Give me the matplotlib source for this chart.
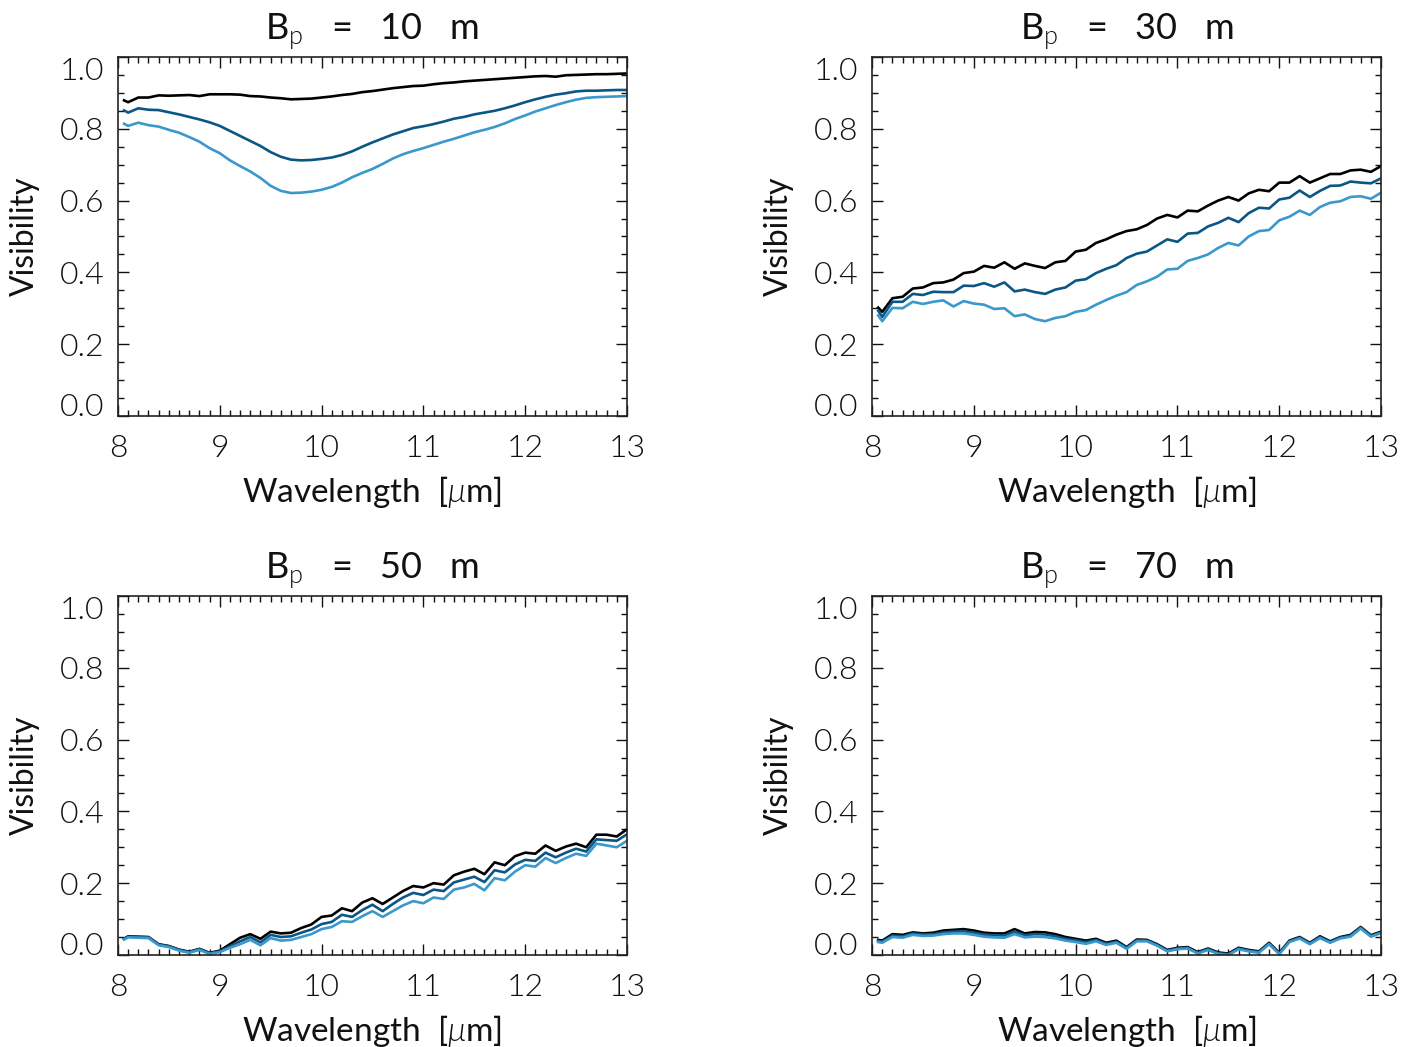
import numpy as np
import matplotlib
matplotlib.use('Agg')
import matplotlib.pyplot as plt
from matplotlib.ticker import MultipleLocator

plt.rcParams['font.family'] = ['Lato', 'DejaVu Sans']
plt.rcParams['font.weight'] = 300
plt.rcParams['mathtext.fontset'] = 'custom'
plt.rcParams['mathtext.rm'] = 'Lato:weight=300'
plt.rcParams['mathtext.it'] = 'Lato:italic:weight=300'

# wavelength grid [micron]
wl = np.concatenate([[8.06], np.round(np.arange(8.1, 13.05, 0.1), 2)])

baselines = [10, 30, 50, 70]

# B_p = 10 m
v10_black = [0.879, 0.874, 0.887, 0.887, 0.893, 0.892, 0.893, 0.894, 0.891, 0.896,
             0.896, 0.896, 0.895, 0.891, 0.890, 0.887, 0.885, 0.882, 0.883, 0.884,
             0.887, 0.890, 0.894, 0.897, 0.902, 0.905, 0.909, 0.913, 0.916, 0.919,
             0.920, 0.924, 0.927, 0.929, 0.932, 0.934, 0.936, 0.938, 0.940, 0.942,
             0.944, 0.946, 0.947, 0.945, 0.949, 0.950, 0.951, 0.952, 0.952, 0.953,
             0.954]
v10_dark = [0.851, 0.845, 0.857, 0.853, 0.852, 0.846, 0.840, 0.833, 0.826, 0.818,
            0.808, 0.794, 0.780, 0.766, 0.752, 0.735, 0.722, 0.714, 0.712, 0.713,
            0.716, 0.720, 0.727, 0.737, 0.750, 0.762, 0.773, 0.784, 0.793, 0.802,
            0.807, 0.813, 0.820, 0.828, 0.833, 0.840, 0.845, 0.850, 0.857, 0.865,
            0.874, 0.882, 0.889, 0.895, 0.899, 0.904, 0.906, 0.906, 0.907, 0.908,
            0.908]
v10_light = [0.814, 0.808, 0.817, 0.810, 0.806, 0.797, 0.789, 0.777, 0.764, 0.746,
             0.732, 0.712, 0.696, 0.681, 0.663, 0.641, 0.627, 0.621, 0.622, 0.625,
             0.630, 0.638, 0.650, 0.665, 0.677, 0.688, 0.702, 0.717, 0.729, 0.738,
             0.746, 0.755, 0.764, 0.772, 0.781, 0.790, 0.797, 0.805, 0.815, 0.827,
             0.837, 0.848, 0.857, 0.866, 0.874, 0.881, 0.886, 0.888, 0.889, 0.890,
             0.891]

# B_p = 30 m
v30_black = [0.302, 0.290, 0.328, 0.332, 0.355, 0.358, 0.370, 0.372, 0.380, 0.398,
             0.402, 0.418, 0.413, 0.428, 0.410, 0.425, 0.418, 0.412, 0.428, 0.432,
             0.458, 0.463, 0.482, 0.492, 0.505, 0.515, 0.520, 0.532, 0.550, 0.560,
             0.553, 0.572, 0.570, 0.586, 0.600, 0.610, 0.600, 0.620, 0.630, 0.626,
             0.650, 0.650, 0.668, 0.650, 0.662, 0.674, 0.674, 0.684, 0.686, 0.680,
             0.696]
v30_dark = [0.293, 0.276, 0.318, 0.318, 0.340, 0.337, 0.346, 0.345, 0.345, 0.363,
            0.362, 0.370, 0.360, 0.372, 0.347, 0.352, 0.345, 0.340, 0.352, 0.358,
            0.377, 0.381, 0.398, 0.410, 0.420, 0.440, 0.452, 0.458, 0.475, 0.492,
            0.485, 0.508, 0.510, 0.528, 0.538, 0.552, 0.540, 0.565, 0.580, 0.578,
            0.603, 0.608, 0.628, 0.610, 0.627, 0.641, 0.642, 0.653, 0.650, 0.648,
            0.662]
v30_light = [0.280, 0.264, 0.301, 0.300, 0.318, 0.312, 0.318, 0.322, 0.305, 0.320,
             0.313, 0.310, 0.298, 0.300, 0.278, 0.283, 0.270, 0.264, 0.273, 0.278,
             0.290, 0.295, 0.310, 0.323, 0.335, 0.345, 0.365, 0.375, 0.388, 0.408,
             0.410, 0.432, 0.440, 0.450, 0.468, 0.482, 0.475, 0.500, 0.515, 0.518,
             0.545, 0.555, 0.572, 0.560, 0.582, 0.594, 0.598, 0.610, 0.612, 0.605,
             0.622]

# B_p = 50 m
v50_black = [0.045, 0.052, 0.051, 0.050, 0.030, 0.025, 0.015, 0.009, 0.017, 0.006,
             0.012, 0.030, 0.048, 0.058, 0.045, 0.065, 0.060, 0.062, 0.075, 0.085,
             0.106, 0.110, 0.130, 0.122, 0.146, 0.158, 0.142, 0.160, 0.178, 0.192,
             0.188, 0.200, 0.196, 0.222, 0.232, 0.240, 0.225, 0.258, 0.250, 0.275,
             0.285, 0.282, 0.305, 0.290, 0.302, 0.310, 0.300, 0.335, 0.335, 0.330,
             0.350]
v50_dark = [0.045, 0.051, 0.050, 0.049, 0.029, 0.024, 0.014, 0.008, 0.016, 0.005,
            0.010, 0.024, 0.038, 0.050, 0.035, 0.056, 0.050, 0.052, 0.062, 0.071,
            0.086, 0.092, 0.112, 0.106, 0.125, 0.140, 0.122, 0.142, 0.160, 0.173,
            0.167, 0.182, 0.178, 0.202, 0.210, 0.218, 0.203, 0.236, 0.230, 0.252,
            0.265, 0.262, 0.285, 0.272, 0.285, 0.296, 0.288, 0.322, 0.320, 0.318,
            0.336]
v50_light = [0.043, 0.049, 0.048, 0.047, 0.027, 0.022, 0.012, 0.006, 0.014, 0.003,
             0.008, 0.020, 0.030, 0.042, 0.027, 0.047, 0.040, 0.042, 0.050, 0.058,
             0.072, 0.078, 0.094, 0.092, 0.108, 0.122, 0.106, 0.122, 0.138, 0.150,
             0.144, 0.160, 0.156, 0.182, 0.188, 0.198, 0.180, 0.214, 0.208, 0.232,
             0.250, 0.246, 0.270, 0.256, 0.270, 0.282, 0.276, 0.310, 0.305, 0.300,
             0.318]

# B_p = 70 m
v70_black = [0.042, 0.040, 0.058, 0.056, 0.063, 0.060, 0.062, 0.068, 0.070, 0.072,
             0.068, 0.062, 0.060, 0.060, 0.072, 0.060, 0.064, 0.063, 0.058, 0.050,
             0.045, 0.040, 0.045, 0.034, 0.040, 0.022, 0.043, 0.042, 0.030, 0.014,
             0.020, 0.022, 0.008, 0.018, 0.007, 0.004, 0.020, 0.014, 0.010, 0.034,
             0.006, 0.040, 0.050, 0.034, 0.052, 0.038, 0.050, 0.056, 0.078, 0.055,
             0.065]
v70_dark = [0.039, 0.037, 0.054, 0.052, 0.060, 0.057, 0.058, 0.063, 0.065, 0.066,
            0.062, 0.057, 0.055, 0.054, 0.065, 0.055, 0.058, 0.057, 0.052, 0.045,
            0.041, 0.036, 0.042, 0.031, 0.037, 0.020, 0.041, 0.040, 0.028, 0.012,
            0.018, 0.020, 0.006, 0.016, 0.005, 0.002, 0.018, 0.012, 0.008, 0.032,
            0.004, 0.038, 0.048, 0.032, 0.050, 0.036, 0.048, 0.054, 0.076, 0.053,
            0.063]
v70_light = [0.036, 0.034, 0.050, 0.048, 0.056, 0.053, 0.054, 0.058, 0.060, 0.060,
             0.056, 0.051, 0.049, 0.048, 0.058, 0.049, 0.051, 0.050, 0.046, 0.040,
             0.036, 0.031, 0.038, 0.028, 0.034, 0.017, 0.038, 0.038, 0.026, 0.010,
             0.016, 0.018, 0.004, 0.014, 0.003, 0.000, 0.016, 0.010, 0.006, 0.030,
             0.002, 0.036, 0.046, 0.030, 0.047, 0.034, 0.046, 0.051, 0.074, 0.051,
             0.061]

panels = [
    (v10_black, v10_dark, v10_light),
    (v30_black, v30_dark, v30_light),
    (v50_black, v50_dark, v50_light),
    (v70_black, v70_dark, v70_light),
]
colors = ['black', '#0b5685', '#3a98cc']

# axes positions (figure fraction)
positions = [
    [0.0830, 0.6027, 0.3582, 0.3429],
    [0.6137, 0.6027, 0.3582, 0.3429],
    [0.0830, 0.0879, 0.3582, 0.3429],
    [0.6137, 0.0879, 0.3582, 0.3429],
]

fig = plt.figure(figsize=(14.21, 10.47), dpi=100)

for bp, data, pos in zip(baselines, panels, positions):
    ax = fig.add_axes(pos)
    for vals, c in zip(data, colors):
        ax.plot(wl, vals, color=c, lw=1.9)
    ax.set_xlim(8, 13)
    ax.set_ylim(0, 1)
    ax.set_xticks([8, 9, 10, 11, 12, 13])
    ax.set_yticks([0.0, 0.2, 0.4, 0.6, 0.8, 1.0])
    ax.set_yticklabels(['0.0', '0.2', '0.4', '0.6', '0.8', '1.0'])
    ax.xaxis.set_minor_locator(MultipleLocator(0.1))
    ax.yaxis.set_minor_locator(MultipleLocator(0.05))
    ax.tick_params(which='both', direction='in', top=True, right=True,
                   width=1.0, labelsize=23, colors='#111111')
    ax.tick_params(which='major', length=8)
    ax.tick_params(which='minor', length=4)
    ax.tick_params(axis='x', pad=13)
    ax.tick_params(axis='y', pad=10)
    ylabs = ax.get_yticklabels()
    ylabs[0].set_va('baseline')
    ylabs[-1].set_va('top')
    for s in ax.spines.values():
        s.set_linewidth(1.2)
        s.set_color('#222222')
    ax.set_xlabel(r'Wavelength  [$\mathit{\mu}$m]', fontsize=24, labelpad=8,
                  color='#111111')
    ax.set_ylabel('Visibility', fontsize=23, labelpad=14, color='#111111')
    ax.set_title(r'B$_{\mathrm{p}}$   =   %d   m' % bp, fontsize=26, pad=12,
                 color='#111111')

fig.savefig('out.png', dpi=100)
